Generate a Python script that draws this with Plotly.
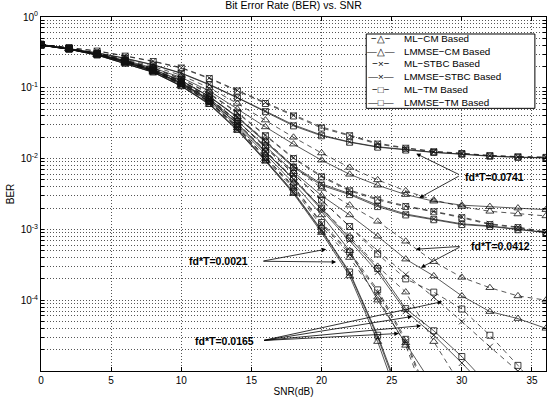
import plotly.graph_objects as go

# ---------------- data ----------------
snr = [0, 2, 4, 6, 8, 10, 12, 14, 16, 18, 20, 22, 24, 26, 28, 30, 32, 34, 36]

# fd*T = 0.0021
ml_cm_0021 = [0.41, 0.355, 0.295, 0.228, 0.170, 0.110, 0.062, 0.027, 0.0100, 0.0038, 1.1e-3, 4.0e-4, 1.1e-4, 2.3e-5, 2.0e-6]
lmmse_cm_0021 = [0.40, 0.350, 0.290, 0.220, 0.165, 0.105, 0.058, 0.025, 0.0092, 0.0032, 9.0e-4, 2.2e-4, 2.6e-5, 2.0e-6]
ml_stbc_0021 = [0.41, 0.358, 0.298, 0.230, 0.172, 0.112, 0.063, 0.0275, 0.0103, 0.0040, 1.2e-3, 4.5e-4, 1.3e-4, 2.6e-5, 2.5e-6]
lmmse_stbc_0021 = [0.40, 0.350, 0.290, 0.221, 0.166, 0.106, 0.059, 0.0255, 0.0094, 0.0033, 9.5e-4, 2.4e-4, 3.0e-5, 2.5e-6]
ml_tm_0021 = [0.41, 0.360, 0.300, 0.232, 0.174, 0.114, 0.064, 0.028, 0.0105, 0.0041, 1.25e-3, 4.8e-4, 1.4e-4, 2.8e-5, 2.8e-6]
lmmse_tm_0021 = [0.40, 0.350, 0.290, 0.222, 0.167, 0.107, 0.060, 0.026, 0.0096, 0.0034, 9.8e-4, 2.5e-4, 3.2e-5, 2.8e-6]

# fd*T = 0.0165
ml_cm_0165 = [0.41, 0.355, 0.297, 0.234, 0.176, 0.118, 0.069, 0.032, 0.0130, 0.0053, 2.0e-3, 8.0e-4, 3.0e-4, 1.3e-4, 2.6e-5, 6e-6]
lmmse_cm_0165 = [0.40, 0.350, 0.292, 0.228, 0.170, 0.112, 0.064, 0.029, 0.0115, 0.0045, 1.6e-3, 5.0e-4, 1.0e-4, 2.5e-5, 6e-6]
ml_stbc_0165 = [0.41, 0.360, 0.302, 0.238, 0.180, 0.121, 0.071, 0.034, 0.0143, 0.0061, 2.6e-3, 1.1e-3, 5.0e-4, 2.3e-4, 1.1e-4, 5.0e-5, 2.2e-5, 1.0e-5, 4.5e-6]
lmmse_stbc_0165 = [0.40, 0.355, 0.296, 0.232, 0.174, 0.116, 0.067, 0.031, 0.0124, 0.0051, 1.9e-3, 7.0e-4, 2.5e-4, 7.0e-5, 3.2e-5, 1.3e-5, 5e-6]
ml_tm_0165 = [0.41, 0.360, 0.302, 0.238, 0.181, 0.122, 0.072, 0.034, 0.0145, 0.0062, 2.6e-3, 1.1e-3, 4.5e-4, 2.0e-4, 1.3e-4, 7.5e-5, 3.2e-5, 1.2e-5, 4e-6]
lmmse_tm_0165 = [0.40, 0.355, 0.296, 0.232, 0.174, 0.116, 0.067, 0.031, 0.0125, 0.0052, 2.0e-3, 7.5e-4, 2.8e-4, 7.6e-5, 3.7e-5, 1.6e-5, 6e-6]

# fd*T = 0.0412
ml_cm_0412 = [0.41, 0.355, 0.300, 0.240, 0.180, 0.125, 0.075, 0.039, 0.018, 0.0078, 3.8e-3, 2.2e-3, 1.3e-3, 6.8e-4, 3.5e-4, 2.1e-4, 1.5e-4, 1.15e-4, 1.0e-4]
lmmse_cm_0412 = [0.40, 0.350, 0.295, 0.232, 0.174, 0.118, 0.069, 0.034, 0.015, 0.0065, 3.0e-3, 1.6e-3, 8.0e-4, 3.8e-4, 2.2e-4, 1.15e-4, 6.9e-5, 5.5e-5, 4.0e-5]
ml_stbc_0412 = [0.41, 0.362, 0.307, 0.247, 0.190, 0.134, 0.084, 0.045, 0.0215, 0.0103, 5.7e-3, 3.6e-3, 2.7e-3, 2.15e-3, 1.8e-3, 1.5e-3, 1.2e-3, 1.08e-3, 9.2e-4]
lmmse_stbc_0412 = [0.40, 0.356, 0.301, 0.240, 0.182, 0.127, 0.076, 0.039, 0.0175, 0.0078, 4.4e-3, 3.2e-3, 2.2e-3, 1.65e-3, 1.4e-3, 1.2e-3, 1.12e-3, 1.0e-3, 9.1e-4]
ml_tm_0412 = [0.41, 0.360, 0.305, 0.245, 0.188, 0.132, 0.082, 0.044, 0.021, 0.0100, 5.5e-3, 3.5e-3, 2.6e-3, 2.1e-3, 1.77e-3, 1.46e-3, 1.17e-3, 1.06e-3, 9.0e-4]
lmmse_tm_0412 = [0.40, 0.355, 0.300, 0.238, 0.180, 0.125, 0.075, 0.038, 0.017, 0.0075, 4.2e-3, 3.1e-3, 2.1e-3, 1.6e-3, 1.37e-3, 1.17e-3, 1.1e-3, 9.9e-4, 9.0e-4]

# fd*T = 0.0741
ml_cm_0741 = [0.41, 0.360, 0.310, 0.255, 0.200, 0.150, 0.100, 0.060, 0.035, 0.020, 0.012, 7.5e-3, 5.0e-3, 3.5e-3, 2.6e-3, 2.1e-3, 1.8e-3, 1.65e-3, 1.55e-3]
lmmse_cm_0741 = [0.40, 0.355, 0.300, 0.245, 0.190, 0.140, 0.090, 0.050, 0.028, 0.016, 9.5e-3, 6.0e-3, 4.2e-3, 3.1e-3, 2.5e-3, 2.2e-3, 2.1e-3, 2.0e-3, 1.9e-3]
ml_stbc_0741 = [0.41, 0.372, 0.332, 0.283, 0.238, 0.193, 0.138, 0.092, 0.062, 0.041, 0.028, 0.0215, 0.0165, 0.0142, 0.0127, 0.0119, 0.0111, 0.0107, 0.0105]
lmmse_stbc_0741 = [0.41, 0.362, 0.312, 0.262, 0.212, 0.162, 0.112, 0.073, 0.047, 0.030, 0.0215, 0.0172, 0.0147, 0.0133, 0.0123, 0.0116, 0.0109, 0.0105, 0.0103]
ml_tm_0741 = [0.41, 0.370, 0.330, 0.280, 0.235, 0.190, 0.135, 0.090, 0.060, 0.040, 0.027, 0.021, 0.016, 0.014, 0.0125, 0.0118, 0.011, 0.0106, 0.0104]
lmmse_tm_0741 = [0.41, 0.360, 0.310, 0.260, 0.210, 0.160, 0.110, 0.072, 0.046, 0.029, 0.021, 0.017, 0.0145, 0.0132, 0.0122, 0.0115, 0.0108, 0.0104, 0.0102]

x_tick_vals = [0, 5, 10, 15, 20, 25, 30, 35]
y_tick_vals = [m * 10.0 ** e for e in range(-5, 0) for m in range(1, 10)] + [1.0]
y_tick_text = ["10<sup>%d</sup>" % e if (m == 1 and e > -5) else "" for e in range(-5, 0) for m in range(1, 10)] + ["10<sup>0</sup>"]

legend_samples = ["−△−", "—△—", "−×−", "—×—", "−□−", "—□—"]
legend_labels = ["ML−CM Based", "LMMSE−CM Based", "ML−STBC Based", "LMMSE−STBC Based", "ML−TM Based", "LMMSE−TM Based"]

# label annotations (snr, log10 BER) and arrow tips
doppler_labels = ["fd*T=0.0741", "fd*T=0.0412", "fd*T=0.0021", "fd*T=0.0165"]
label_pos = [(30.1, -2.26, "left"), (30.5, -3.24, "left"), (14.9, -3.45, "right"), (15.3, -4.58, "right")]
arrow_tail = [(29.9, -2.235), (29.95, -3.24), (15.75, -3.45), (15.8, -4.57)]
arrow_tips = [
    [(26.75, -1.93), (26.96, -2.556)],
    [(26.72, -3.28), (27.08, -3.54)],
    [(20.33, -3.28), (21.04, -3.46)],
    [(28.6, -4.02), (26.46, -4.23), (27.1, -4.36), (25.5, -4.47)],
]

# ---------------- figure ----------------
FONT = "Liberation Sans, Arial, Helvetica, sans-serif"
fig = go.Figure()

series = [
    (ml_cm_0021, "dash", "triangle-up-open"), (lmmse_cm_0021, "solid", "triangle-up-open"),
    (ml_stbc_0021, "dash", "x-thin-open"), (lmmse_stbc_0021, "solid", "x-thin-open"),
    (ml_tm_0021, "dash", "square-open"), (lmmse_tm_0021, "solid", "square-open"),
    (ml_cm_0165, "dash", "triangle-up-open"), (lmmse_cm_0165, "solid", "triangle-up-open"),
    (ml_stbc_0165, "dash", "x-thin-open"), (lmmse_stbc_0165, "solid", "x-thin-open"),
    (ml_tm_0165, "dash", "square-open"), (lmmse_tm_0165, "solid", "square-open"),
    (ml_cm_0412, "dash", "triangle-up-open"), (lmmse_cm_0412, "solid", "triangle-up-open"),
    (ml_stbc_0412, "dash", "x-thin-open"), (lmmse_stbc_0412, "solid", "x-thin-open"),
    (ml_tm_0412, "dash", "square-open"), (lmmse_tm_0412, "solid", "square-open"),
    (ml_cm_0741, "dash", "triangle-up-open"), (lmmse_cm_0741, "solid", "triangle-up-open"),
    (ml_stbc_0741, "dash", "x-thin-open"), (lmmse_stbc_0741, "solid", "x-thin-open"),
    (ml_tm_0741, "dash", "square-open"), (lmmse_tm_0741, "solid", "square-open"),
]

for vals, dash, sym in series:
    fig.add_trace(go.Scatter(
        x=snr[:len(vals)], y=vals, mode="lines+markers",
        line=dict(color="#111111", width=0.7, dash="5px,4px" if dash == "dash" else "solid"),
        marker=dict(symbol=sym, size=7 if "triangle" in sym else 6,
                    color="#111111", line=dict(color="#111111", width=0.8)),
        showlegend=False, hoverinfo="skip"))

annotations = []
for text, (lx, ly, anc) in zip(doppler_labels, label_pos):
    annotations.append(dict(x=lx, y=ly, xref="x", yref="y", text="<b>%s</b>" % text,
                            showarrow=False, xanchor=anc, yanchor="middle",
                            font=dict(family=FONT, size=10.5, color="black")))
for (tx, ty), tips in zip(arrow_tail, arrow_tips):
    for (hx, hy) in tips:
        annotations.append(dict(x=hx, y=hy, xref="x", yref="y", ax=tx, ay=ty,
                                axref="x", ayref="y", text="", showarrow=True,
                                arrowhead=2, arrowsize=1.1, arrowwidth=0.8,
                                arrowcolor="black", standoff=0, startstandoff=0))

# legend (box + sample column + label column)
annotations.append(dict(x=0.674, y=0.848, xref="paper", yref="paper",
                        text="<br>".join(legend_samples), showarrow=False,
                        xanchor="center", yanchor="middle", align="center",
                        font=dict(family=FONT, size=9.8, color="black")))
annotations.append(dict(x=0.715, y=0.848, xref="paper", yref="paper",
                        text="<br>".join(legend_labels), showarrow=False,
                        xanchor="left", yanchor="middle", align="left",
                        font=dict(family=FONT, size=9.8, color="black")))

fig.update_layout(
    width=557, height=405,
    margin=dict(l=41, r=10, t=15, b=33),
    paper_bgcolor="white", plot_bgcolor="white",
    font=dict(family=FONT, size=10, color="black"),
    title=dict(text="Bit Error Rate (BER) vs. SNR", xref="paper", x=0.5, xanchor="center",
               y=0.986, yanchor="middle", font=dict(family=FONT, size=10.5, color="black")),
    annotations=annotations,
    shapes=[dict(type="rect", xref="paper", yref="paper", x0=0.644, x1=0.978,
                 y0=0.742, y1=0.952, line=dict(color="black", width=1),
                 fillcolor="white", layer="above")],
)

fig.update_xaxes(range=[0, 36], tickvals=x_tick_vals, showgrid=True,
                 gridcolor="#555555", griddash="1px,2px", gridwidth=1,
                 showline=True, linecolor="black", linewidth=1, mirror="ticks",
                 ticks="inside", ticklen=4, tickcolor="black", zeroline=False,
                 tickfont=dict(size=10, family=FONT),
                 title=dict(text="SNR(dB)", standoff=2, font=dict(size=10, family=FONT)))
fig.update_yaxes(type="log", range=[-5, 0], tickvals=y_tick_vals, ticktext=y_tick_text,
                 showgrid=True, gridcolor="#555555", griddash="1px,2px", gridwidth=1,
                 showline=True, linecolor="black", linewidth=1, mirror="ticks",
                 ticks="inside", ticklen=3, tickcolor="black", zeroline=False,
                 tickfont=dict(size=10, family=FONT),
                 title=dict(text="BER", standoff=4, font=dict(size=10, family=FONT)))

fig.write_html("out.html")
